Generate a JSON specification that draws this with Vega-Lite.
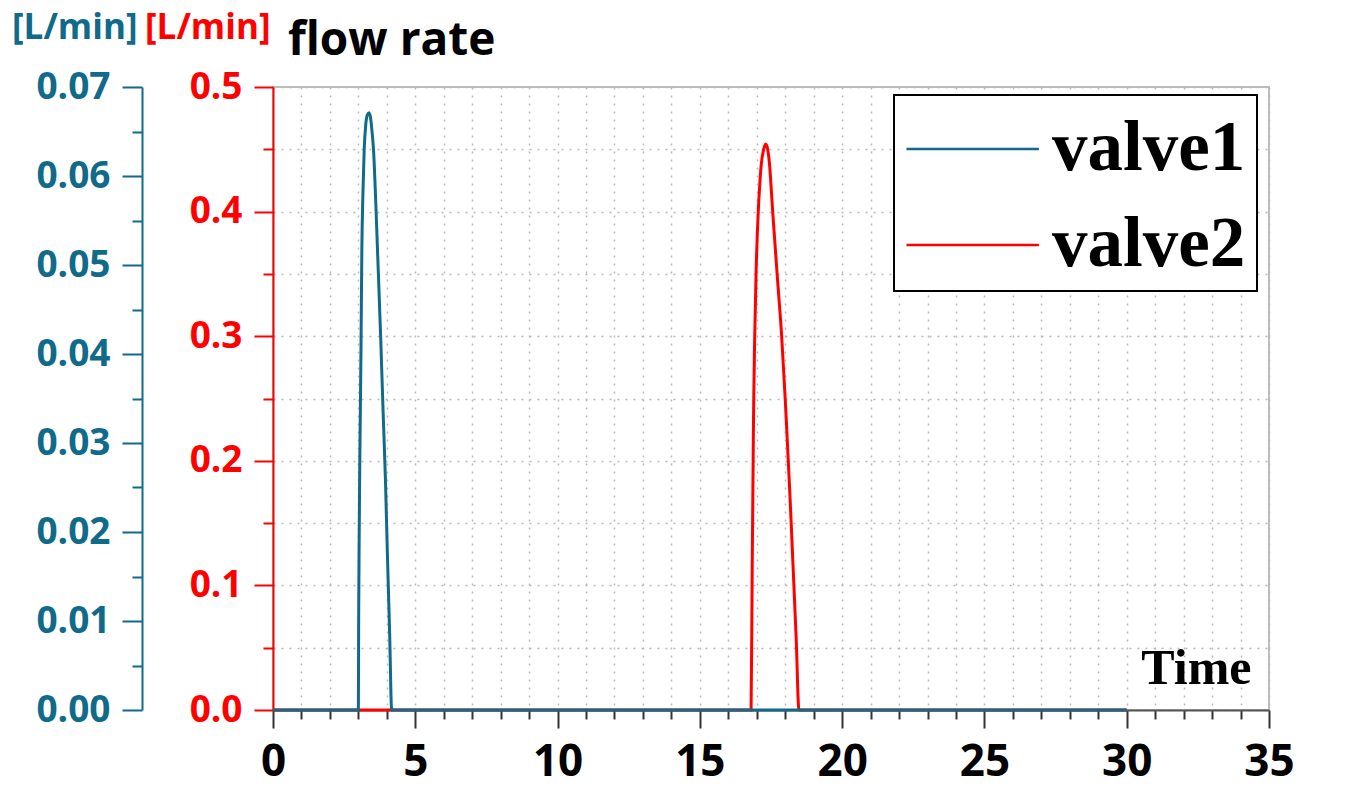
{
  "$schema": "https://vega.github.io/schema/vega-lite/v6.json",
  "width": 996,
  "height": 623,
  "autosize": {"type": "none"},
  "padding": {"left": 273, "top": 87, "right": 86, "bottom": 81},
  "background": "white",
  "title": {"text": "flow rate", "anchor": "start", "frame": "group", "orient": "top", "offset": -91, "baseline": "alphabetic", "dx": 15, "font": "Open Sans", "fontSize": 46, "fontWeight": "bold", "color": "black"},
  "data": {
    "values": [
      {"series": "valve2", "t": 0, "v": 0},
      {"series": "valve2", "t": 16.8, "v": 0},
      {"series": "valve2", "t": 16.838, "v": 0.1083},
      {"series": "valve2", "t": 16.879, "v": 0.2167},
      {"series": "valve2", "t": 16.893, "v": 0.2488},
      {"series": "valve2", "t": 16.929, "v": 0.301},
      {"series": "valve2", "t": 16.974, "v": 0.3491},
      {"series": "valve2", "t": 17.055, "v": 0.4013},
      {"series": "valve2", "t": 17.104, "v": 0.4213},
      {"series": "valve2", "t": 17.156, "v": 0.4374},
      {"series": "valve2", "t": 17.237, "v": 0.4494},
      {"series": "valve2", "t": 17.315, "v": 0.4543},
      {"series": "valve2", "t": 17.388, "v": 0.4494},
      {"series": "valve2", "t": 17.451, "v": 0.4374},
      {"series": "valve2", "t": 17.5, "v": 0.4213},
      {"series": "valve2", "t": 17.556, "v": 0.4013},
      {"series": "valve2", "t": 17.63, "v": 0.3772},
      {"series": "valve2", "t": 17.718, "v": 0.3491},
      {"series": "valve2", "t": 17.872, "v": 0.301},
      {"series": "valve2", "t": 18.002, "v": 0.2488},
      {"series": "valve2", "t": 18.072, "v": 0.2167},
      {"series": "valve2", "t": 18.173, "v": 0.1685},
      {"series": "valve2", "t": 18.289, "v": 0.1083},
      {"series": "valve2", "t": 18.387, "v": 0.0562},
      {"series": "valve2", "t": 18.482, "v": 0},
      {"series": "valve2", "t": 30, "v": 0},
      {"series": "valve1", "t": 0, "v": 0},
      {"series": "valve1", "t": 3.0, "v": 0},
      {"series": "valve1", "t": 3.01, "v": 0.01},
      {"series": "valve1", "t": 3.03, "v": 0.02},
      {"series": "valve1", "t": 3.05, "v": 0.028},
      {"series": "valve1", "t": 3.07, "v": 0.0337},
      {"series": "valve1", "t": 3.095, "v": 0.0416},
      {"series": "valve1", "t": 3.122, "v": 0.0517},
      {"series": "valve1", "t": 3.16, "v": 0.058},
      {"series": "valve1", "t": 3.204, "v": 0.0629},
      {"series": "valve1", "t": 3.26, "v": 0.0658},
      {"series": "valve1", "t": 3.32, "v": 0.0669},
      {"series": "valve1", "t": 3.377, "v": 0.0671},
      {"series": "valve1", "t": 3.43, "v": 0.0665},
      {"series": "valve1", "t": 3.48, "v": 0.065},
      {"series": "valve1", "t": 3.533, "v": 0.0629},
      {"series": "valve1", "t": 3.6, "v": 0.058},
      {"series": "valve1", "t": 3.672, "v": 0.0517},
      {"series": "valve1", "t": 3.787, "v": 0.0416},
      {"series": "valve1", "t": 3.867, "v": 0.0337},
      {"series": "valve1", "t": 3.95, "v": 0.026},
      {"series": "valve1", "t": 4.02, "v": 0.0175},
      {"series": "valve1", "t": 4.1, "v": 0.0085},
      {"series": "valve1", "t": 4.17, "v": 0},
      {"series": "valve1", "t": 30, "v": 0}
    ]
  },
  "encoding": {
    "x": {
      "field": "t", "type": "quantitative",
      "scale": {"domain": [0, 35], "nice": false, "zero": false},
      "axis": {
        "orient": "bottom",
        "values": [0,1,2,3,4,5,6,7,8,9,10,11,12,13,14,15,16,17,18,19,20,21,22,23,24,25,26,27,28,29,30,31,32,33,34,35],
        "grid": true, "gridColor": "#b8b8b8", "gridDash": [2, 6], "gridWidth": 1.5,
        "domainColor": "#555555", "domainWidth": 2,
        "tickColor": "#333333", "tickWidth": 2,
        "tickSize": {"condition": {"test": "round(datum.value) % 5 === 0", "value": 18}, "value": 9},
        "labelExpr": "round(datum.value) % 5 === 0 ? datum.label : ''",
        "labelFont": "Open Sans", "labelFontSize": 44, "labelFontWeight": "bold", "labelColor": "black",
        "labelPadding": 12, "labelFlush": false, "labelOverlap": false, "labelSeparation": 0,
        "title": "Time", "titleFont": "Liberation Serif", "titleFontSize": 50, "titleFontWeight": "bold", "titleColor": "black",
        "titleX": 978, "titleY": -27, "titleAlign": "right", "titleBaseline": "alphabetic"
      }
    },
    "color": {
      "field": "series", "type": "nominal",
      "scale": {"domain": ["valve1", "valve2"], "range": ["#106a8a", "#ff0000"]},
      "legend": {
        "title": null, "orient": "none", "legendX": 621, "legendY": 8,
        "fillColor": "white", "strokeColor": "black", "padding": 11,
        "symbolType": "M-1,0L2.19,0", "symbolSize": 6889, "symbolStrokeWidth": 2.5,
        "labelFont": "Liberation Serif", "labelFontSize": 71, "labelFontWeight": "bold", "labelColor": "black",
        "labelOffset": 61, "rowPadding": 18, "labelLimit": 400,
        "encode": {"legend": {"update": {"strokeWidth": {"value": 2}}}}
      }
    }
  },
  "layer": [
    {
      "transform": [{"filter": "datum.series === 'valve2'"}],
      "mark": {"type": "line", "strokeWidth": 3, "interpolate": "monotone"},
      "encoding": {
        "y": {
          "field": "v", "type": "quantitative",
          "scale": {"domain": [0, 0.5], "nice": false},
          "axis": {
            "orient": "left",
            "values": [0, 0.05, 0.1, 0.15, 0.2, 0.25, 0.3, 0.35, 0.4, 0.45, 0.5],
            "grid": true, "gridColor": "#b8b8b8", "gridDash": [2, 6], "gridWidth": 1.5,
            "domainColor": "#ff0000", "domainWidth": 2,
            "tickColor": "#ff0000", "tickWidth": 2,
            "tickSize": {"condition": {"test": "round(datum.value*100) % 10 === 0", "value": 19}, "value": 10},
            "labelExpr": "round(datum.value*100) % 10 === 0 ? format(datum.value, '.1f') : ''",
            "labelFont": "Open Sans", "labelFontSize": 37, "labelFontWeight": "bold", "labelColor": "#ff0000",
            "labelPadding": 12, "labelOverlap": false, "labelFlush": false,
            "title": "[L/min]", "titleAngle": 0, "titleX": -3, "titleY": -49, "titleAlign": "right", "titleBaseline": "alphabetic",
            "titleColor": "#ff0000", "titleFont": "Open Sans", "titleFontSize": 35, "titleFontWeight": "bold"
          }
        }
      }
    },
    {
      "transform": [{"filter": "datum.series === 'valve1'"}],
      "mark": {"type": "line", "strokeWidth": 3, "interpolate": "monotone"},
      "encoding": {
        "y": {
          "field": "v", "type": "quantitative",
          "scale": {"domain": [0, 0.07], "nice": false},
          "axis": {
            "orient": "left", "offset": 131,
            "values": [0, 0.005, 0.01, 0.015, 0.02, 0.025, 0.03, 0.035, 0.04, 0.045, 0.05, 0.055, 0.06, 0.065, 0.07],
            "grid": false,
            "domainColor": "#106a8a", "domainWidth": 2,
            "tickColor": "#106a8a", "tickWidth": 2,
            "tickSize": {"condition": {"test": "round(datum.value*1000) % 10 === 0", "value": 20}, "value": 10},
            "labelExpr": "round(datum.value*1000) % 10 === 0 ? format(datum.value, '.2f') : ''",
            "labelFont": "Open Sans", "labelFontSize": 37, "labelFontWeight": "bold", "labelColor": "#106a8a",
            "labelPadding": 12, "labelOverlap": false, "labelFlush": false,
            "title": "[L/min]", "titleAngle": 0, "titleX": -5, "titleY": -49, "titleAlign": "right", "titleBaseline": "alphabetic",
            "titleColor": "#106a8a", "titleFont": "Open Sans", "titleFontSize": 35, "titleFontWeight": "bold"
          }
        }
      }
    }
  ],
  "resolve": {"scale": {"y": "independent"}, "axis": {"y": "independent"}},
  "config": {
    "view": {"stroke": "#bdbdbd", "strokeWidth": 2}
  }
}
